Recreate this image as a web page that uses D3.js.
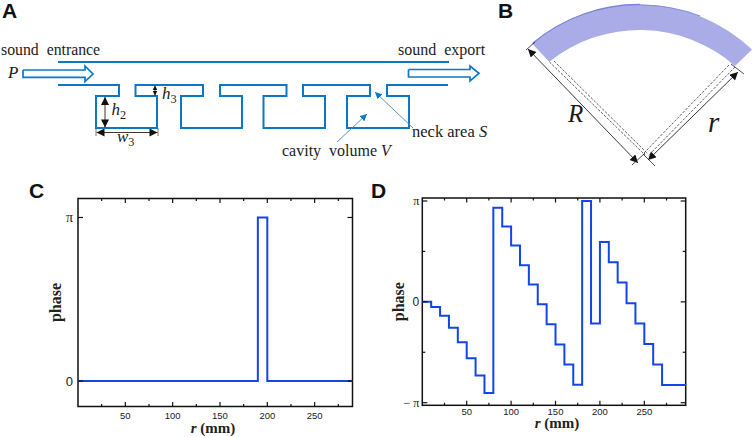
<!DOCTYPE html>
<html><head><meta charset="utf-8">
<script src="https://cdn.jsdelivr.net/npm/d3@7/dist/d3.min.js"></script>
<style>html,body{margin:0;padding:0;background:#fff}svg{display:block}
text{white-space:pre}</style></head><body><div id="c"></div>
<script>
// Panel C phase profile (in units of pi)
const cEdges  = [0,190,200,290];
const cPhases = [0,1,0];
// Panel D phase profile (in units of pi)
const dEdges  = [0,10,20,30,40,50,60,70,80,90,100,110,120,130,140,150,160,170,180,190,200,210,220,230,240,250,260,270,297];
const dPhases = [0,-.05,-.139,-.257,-.4,-.558,-.73,-.904,.934,.746,.558,.363,.172,-.023,-.221,-.422,-.62,-.822,1,-.215,.594,.393,.191,-.013,-.215,-.419,-.62,-.825];
const xTickValues = [50,100,150,200,250];
const xMinorValues = [25,75,125,175,225,275];
const cYTicks = [[0,"0"],[1,"π"]];
const dYTicks = [[-1,"− π"],[0,"0"],[1,"π"]];
const dYMinor = [-.5,.5];

const W=754,H=437, BLUE="#1246ea", PIPE="#0a78c8", SERIF="'Liberation Serif',serif", SANS="'Liberation Sans',sans-serif";
const svg=d3.select("#c").append("svg").attr("width",W).attr("height",H).attr("viewBox",`0 0 ${W} ${H}`);
svg.append("defs").call(d=>{
  const mk=(id,w,h,f)=>d.append("marker").attr("id",id).attr("viewBox","0 0 10 10").attr("refX",10).attr("refY",5)
   .attr("markerWidth",w).attr("markerHeight",h).attr("markerUnits","userSpaceOnUse").attr("orient","auto-start-reverse")
   .append("path").attr("d","M0,0L10,5L0,10Z").attr("fill",f);
  mk("ah",9,8,"#111");mk("as",4.5,7,"#111");mk("ab",7,7,PIPE);
});
const line=d3.line();
function label(t,x,y){svg.append("text").attr("x",x).attr("y",y).attr("font-family",SANS).attr("font-weight","bold").attr("font-size",21).attr("fill","#111").text(t);}
label("A",2,17.5);label("B",498,17.5);label("C",29,198);label("D",371,198);

// ---------- Panel A
const A=svg.append("g");
function pipe(pts,w){A.append("path").attr("d",line(pts)).attr("fill","none").attr("stroke",PIPE).attr("stroke-width",w||2).attr("stroke-linejoin","miter");}
pipe([[58,62],[449,62]]);
pipe([[58,85],[119,85],[119,96],[96,96],[96,128],[157,128],[157,96],[135.5,96],[135.5,85],[203,85],[203,96],[181,96],[181,128],[242,128],[242,96],[220,96],[220,85],[286.5,85],[286.5,96],[263.5,96],[263.5,128],[325,128],[325,96],[303,96],[303,85],[370,85],[370,96],[347,96],[347,128],[409,128],[409,96],[387,96],[387,85],[448,85]]);
pipe([[23,70],[85,70],[85,66],[93,74],[85,81.5],[85,77.3],[23,77.3],[23,70]],1.7);
pipe([[408.5,69.5],[470,69.5],[470,66],[479,73.3],[470,81],[470,77],[408.5,77],[408.5,69.5]],1.7);
function stxt(g,parts,x,y,size){
  const t=g.append("text").attr("x",x).attr("y",y).attr("font-family",SERIF).attr("font-size",size).attr("fill","#1c1c1c");
  parts.forEach(p=>{const s=t.append("tspan").text(p[0]);
    if(p[1]==="i")s.attr("font-style","italic");
    if(p[1]==="sub")s.attr("font-size",size*.72).attr("dy",4);});
  return t;
}
stxt(A,[["sound  entrance"]],1,55,15.8);
stxt(A,[["sound  export"]],398,54.5,16);
stxt(A,[["P","i"]],8,78,17);
stxt(A,[["neck area "],["S","i"]],412,137,16.5);
stxt(A,[["cavity  volume "],["V","i"]],282,156,16);
stxt(A,[["h","i"],["2","sub"]],111.5,115,17);
stxt(A,[["h","i"],["3","sub"]],162,98.5,17);
stxt(A,[["w","i"],["3","sub"]],117,141.5,17);
function dim(g,a,b,mk){g.append("path").attr("d",line([a,b])).attr("fill","none").attr("stroke","#222").attr("stroke-width",.9)
  .attr("marker-start",`url(#${mk||"ah"})`).attr("marker-end",`url(#${mk||"ah"})`);}
dim(A,[105,97],[105,127.5]);
dim(A,[155,85.5],[155,95.5],"as");
dim(A,[96.5,132.5],[157.5,132.5]);
A.append("path").attr("d","M96,128V136M158,128V136").attr("stroke","#555").attr("stroke-width",.8);
const lb="#4f88b8";
A.append("path").attr("d",line([[337,142],[367,114]])).attr("stroke",lb).attr("fill","none").attr("stroke-width",.9).attr("marker-end","url(#ab)");
A.append("path").attr("d",line([[413,128],[375,92]])).attr("stroke",lb).attr("fill","none").attr("stroke-width",.9).attr("marker-end","url(#ab)");

// ---------- Panel B
const B=svg.append("g");
B.append("path").attr("d","M532,43.5A165,165 0 0 1 752,49.5L735,66A144.4,144.4 0 0 0 549.3,61.7Z").attr("fill","#aaace8");
B.append("path").attr("d","M533,43A165,165 0 0 1 640,4.5").attr("fill","none").attr("stroke","#8082da").attr("stroke-width",1.3);
B.append("path").attr("d","M640,5A165,165 0 0 1 700,16").attr("fill","none").attr("stroke","#8a8cdc").attr("stroke-width",1.2);
dim(B,[528,49],[638,163]);
dim(B,[738,72],[648,160]);
B.append("path").attr("d","M526,50L535,42M632,165L645,153M643,154L655,166M744,74L731,64").attr("stroke","#222").attr("stroke-width",.8);
B.append("path").attr("d","M549.5,62L645,155M554,61L648,154M729,65L644,153M735,67L648,156").attr("fill","none").attr("stroke","#333").attr("stroke-width",.8).attr("stroke-dasharray","2.5 1.5");
stxt(B,[["R","i"]],568,122,25);
stxt(B,[["r","i"]],708,132,29);

// ---------- Panels C and D
function panel(o){
  const x=d3.scaleLinear().domain(o.xd).range([o.l,o.r]);
  const y=d3.scaleLinear().domain(o.yd).range([o.b,o.t]);
  const g=svg.append("g");
  g.append("rect").attr("x",o.l).attr("y",o.t).attr("width",o.r-o.l).attr("height",o.b-o.t).attr("fill","none").attr("stroke","#111").attr("stroke-width",1.5);
  const pts=[];
  o.ph.forEach((p,i)=>{pts.push([o.ed[i],p]);pts.push([o.ed[i+1],p]);});
  g.append("path").datum(pts).attr("d",d3.line().x(d=>x(d[0])).y(d=>y(d[1]))).attr("fill","none").attr("stroke",BLUE).attr("stroke-width",o.lw).attr("stroke-linejoin","miter");
  const tk=(xs,len)=>xs.forEach(v=>{const X=x(v);
    g.append("line").attr("x1",X).attr("x2",X).attr("y1",o.b).attr("y2",o.b-len).attr("stroke","#111").attr("stroke-width",1.2);
    g.append("line").attr("x1",X).attr("x2",X).attr("y1",o.t).attr("y2",o.t+len).attr("stroke","#111").attr("stroke-width",1.2);});
  tk(xTickValues,4.5);tk(xMinorValues,2.5);
  xTickValues.forEach(v=>g.append("text").attr("x",x(v)).attr("y",o.b+o.tb).attr("text-anchor","middle").attr("font-family",SANS).attr("font-size",9.5).attr("fill","#222").text(v));
  const ty=(v,len)=>{const Y=y(v);
    g.append("line").attr("x1",o.l).attr("x2",o.l+len).attr("y1",Y).attr("y2",Y).attr("stroke","#111").attr("stroke-width",1.2);
    g.append("line").attr("x1",o.r).attr("x2",o.r-len).attr("y1",Y).attr("y2",Y).attr("stroke","#111").attr("stroke-width",1.2);};
  o.yt.forEach(d=>{ty(d[0],5);
    g.append("text").attr("x",o.l-o.lpad).attr("y",y(d[0])+4.5).attr("text-anchor","end").attr("font-family",d[1]==="0"?SANS:SERIF).attr("font-size",d[1]==="0"?o.zs:o.ps).attr("fill","#222").text(d[1]);});
  (o.ym||[]).forEach(v=>ty(v,3));
  const xl=g.append("text").attr("x",o.xc).attr("y",o.xb).attr("text-anchor","middle").attr("font-family",SERIF).attr("font-weight","bold").attr("font-size",15).attr("fill","#222");
  xl.append("tspan").attr("font-style","italic").text("r");xl.append("tspan").text(" (mm)");
  g.append("text").attr("transform",`translate(${o.yx},${(o.t+o.b)/2}) rotate(-90)`).attr("text-anchor","middle").attr("font-family",SERIF).attr("font-weight","bold").attr("font-size",16).attr("fill","#222").text("phase");
}
const cScalePad=163.7;
panel({l:78,r:352.5,t:198.5,b:406.5,xd:[0,290],yd:[-25.5/cScalePad,1+19/cScalePad],ed:cEdges,ph:cPhases,yt:cYTicks,lw:2,lpad:5,zs:13,ps:14,yx:61,tb:12,xc:213,xb:432.5});
panel({l:422.3,r:685.7,t:198,b:405.3,xd:[0,296.6],yd:[-103.6/101,1+3/101],ed:dEdges,ph:dPhases,yt:dYTicks,ym:dYMinor,lw:2,lpad:3,zs:12,ps:12,yx:404,tb:9.5,xc:557,xb:428});
</script></body></html>
